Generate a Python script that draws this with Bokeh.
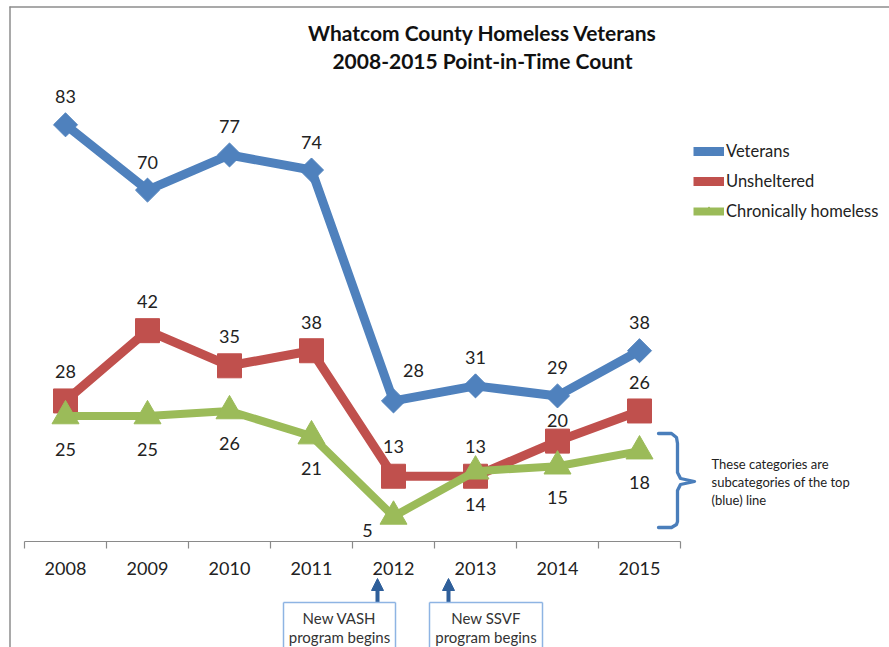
import numpy as np
from bokeh.plotting import figure
from bokeh.models import (Range1d, FixedTicker, Legend, LegendItem, Label,
                          Arrow, NormalHead)
from bokeh.core.properties import value
from bokeh.embed import file_html
from bokeh.resources import INLINE

# ---------------- data ----------------
years = [2008, 2009, 2010, 2011, 2012, 2013, 2014, 2015]
year_labels = ["2008", "2009", "2010", "2011", "2012", "2013", "2014", "2015"]
veterans = [83, 70, 77, 74, 28, 31, 29, 38]
unsheltered = [28, 42, 35, 38, 13, 13, 20, 26]
chronic = [25, 25, 26, 21, 5, 14, 15, 18]
series_names = ["Veterans", "Unsheltered", "Chronically homeless"]

# label offsets (pixels: right, up)
vet_dx = [0, 0, 0, 0, 20, 0, 0, 0]
vet_up = [28, 28, 28, 28, 30, 28, 28, 28]
uns_dx = [0, 0, 0, 0, 0, 0, 0, 0]
uns_up = [29, 29, 29, 28, 30, 30, 21, 28]
chr_dx = [0, 0, 0, 0, -26, 0, 0, 0]
chr_up = [-33, -33, -33, -32, -14, -33, -31, -31]

# ---------------- geometry ----------------
W, H = 889, 647
AXIS_SY = 541   # pixel row of the value 0
PPX = 82.0      # pixels per year
PPY = 5.02      # pixels per unit
X0 = 2007.5 - 24 / PPX
X1 = X0 + W / PPX
Y0 = -(H - AXIS_SY) / PPY
Y1 = AXIS_SY / PPY


def X(sx):
    return X0 + sx / PPX


def Y(sy):
    return (AXIS_SY - sy) / PPY


BLUE = "#4F81BD"
RED = "#C0504D"
GREEN = "#9BBB59"
TXT = "#222222"
FONT = "Lato"

p = figure(width=W, height=H, x_range=Range1d(X0, X1), y_range=Range1d(Y0, Y1),
           output_backend="svg", toolbar_location=None,
           min_border_left=0, min_border_right=0, min_border_top=0,
           min_border_bottom=0, y_axis_location=None,
           outline_line_color=None, background_fill_color="white",
           border_fill_color="white")
p.grid.visible = False

ax = p.xaxis[0]
ax.fixed_location = 0
ax.ticker = FixedTicker(ticks=years,
                        minor_ticks=[y - 0.5 for y in years] + [years[-1] + 0.5])
ax.major_label_overrides = {y: l for y, l in zip(years, year_labels)}
ax.bounds = (years[0] - 0.5, years[-1] + 0.5)
ax.axis_line_color = "#8a8a8a"
ax.axis_line_width = 1.2
ax.major_tick_line_color = None
ax.major_tick_out = 0
ax.major_tick_in = 0
ax.minor_tick_line_color = "#8a8a8a"
ax.minor_tick_line_width = 1.2
ax.minor_tick_out = 7
ax.minor_tick_in = 0
ax.major_label_standoff = 13
ax.major_label_text_font = FONT
ax.major_label_text_font_size = "18px"
ax.major_label_text_color = TXT

# ---------------- series ----------------
l1 = p.line(years, veterans, line_width=9, color=BLUE)
s1 = p.scatter(years, veterans, marker="square", angle=np.pi / 4, size=17,
               color=BLUE)
l2 = p.line(years, unsheltered, line_width=9, color=RED)
s2 = p.scatter(years, unsheltered, marker="square", size=24, color=RED)
l3 = p.line(years, chronic, line_width=8, color=GREEN)
s3 = p.scatter(years, chronic, marker="triangle", size=27, color=GREEN)

for vals, dx, up in [(veterans, vet_dx, vet_up), (unsheltered, uns_dx, uns_up),
                     (chronic, chr_dx, chr_up)]:
    lx = [y + d / PPX for y, d in zip(years, dx)]
    ly = [v + u / PPY for v, u in zip(vals, up)]
    p.text(x=lx, y=ly, text=[str(v) for v in vals], text_align="center",
           text_baseline="middle", text_font=value(FONT),
           text_font_size="18px", text_color=TXT)

legend = Legend(items=[LegendItem(label=series_names[0], renderers=[l1, s1]),
                       LegendItem(label=series_names[1], renderers=[l2, s2]),
                       LegendItem(label=series_names[2], renderers=[l3, s3])],
                location=(693, H - 221), glyph_width=31, glyph_height=20,
                spacing=10, padding=0, margin=0, label_standoff=2,
                border_line_color=None, background_fill_alpha=0,
                label_text_font=FONT, label_text_font_size="16.5px",
                label_text_color=TXT)
p.add_layout(legend)

# ---------------- title ----------------
for txt, sy in [("Whatcom County Homeless Veterans", 32),
                ("2008-2015 Point-in-Time Count", 60)]:
    p.add_layout(Label(x=X(482), y=Y(sy), text=txt, text_align="center",
                       text_baseline="middle", text_font=FONT,
                       text_font_style="bold", text_font_size="21px",
                       text_color="#111111"))

# ---------------- chart border ----------------
BORDER = "#8c8c8c"
p.add_layout(Arrow(end=None, x_start=X(9.5), y_start=Y(6), x_end=X(9.5),
                   y_end=Y(H + 5), line_color=BORDER, line_width=1.5))
p.add_layout(Arrow(end=None, x_start=X(9), y_start=Y(6.5), x_end=X(W + 5),
                   y_end=Y(6.5), line_color=BORDER, line_width=1.5))

# ---------------- bracket + note ----------------
br_sx = [658, 671, 676, 677, 677, 680, 694, 680, 677, 677, 676, 671, 658]
br_sy = [433, 433, 437, 443, 472, 478, 481, 484, 490, 521, 524, 527, 527]
p.line([X(v) for v in br_sx], [Y(v) for v in br_sy], line_width=3.3,
       color="#4a7ebb", line_join="round", line_cap="round")
for txt, sy in [("These categories are", 463), ("subcategories of the top", 481),
                ("(blue) line", 499)]:
    p.add_layout(Label(x=X(711), y=Y(sy), text=txt, text_align="left",
                       text_baseline="middle", text_font=FONT,
                       text_font_size="13px", text_color=TXT))

# ---------------- program arrows + boxes ----------------
ARW = "#2f5f9a"
BOXC = "#8eb4e3"
for sx, bl, br, l1t, l2t in [(377, 283, 395, "New VASH", "program begins"),
                             (448, 429, 542, "New SSVF", "program begins")]:
    p.add_layout(Arrow(end=NormalHead(size=12, fill_color=ARW, line_color=ARW),
                       x_start=X(sx), y_start=Y(602), x_end=X(sx), y_end=Y(578),
                       line_color=ARW, line_width=4))
    for xa, ya, xb, yb in [(bl, H + 5, bl, 602), (bl, 602, br, 602),
                           (br, 602, br, H + 5)]:
        p.add_layout(Arrow(end=None, x_start=X(xa), y_start=Y(ya),
                           x_end=X(xb), y_end=Y(yb), line_color=BOXC,
                           line_width=1.5))
    for txt, sy in [(l1t, 617), (l2t, 636)]:
        p.add_layout(Label(x=X((bl + br) / 2), y=Y(sy), text=txt,
                           text_align="center", text_baseline="middle",
                           text_font=FONT, text_font_size="15px",
                           text_color="#333333"))

open("out.html", "w").write(file_html(p, INLINE))
